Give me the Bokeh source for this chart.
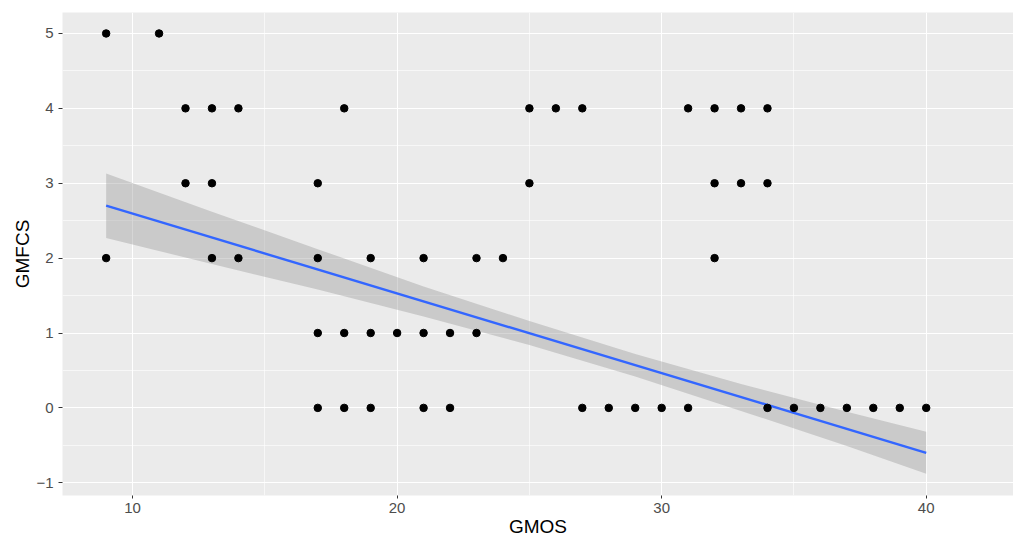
from bokeh.plotting import figure
from bokeh.models import Range1d, FixedTicker
from bokeh.embed import file_html
from bokeh.resources import INLINE

# Scatter data: GMOS (x) vs GMFCS (y)
gmos = [9, 11,
        12, 13, 14, 18, 25, 26, 27, 31, 32, 33, 34,
        12, 13, 17, 25, 32, 33, 34,
        9, 13, 14, 17, 19, 21, 23, 24, 32,
        17, 18, 19, 20, 21, 22, 23,
        17, 18, 19, 21, 22, 27, 28, 29, 30, 31, 34, 35, 36, 37, 38, 39, 40]
gmfcs = [5, 5,
         4, 4, 4, 4, 4, 4, 4, 4, 4, 4, 4,
         3, 3, 3, 3, 3, 3, 3,
         2, 2, 2, 2, 2, 2, 2, 2, 2,
         1, 1, 1, 1, 1, 1, 1,
         0, 0, 0, 0, 0, 0, 0, 0, 0, 0, 0, 0, 0, 0, 0, 0, 0]

# Linear fit and its confidence band
fit_x = [9, 40]
fit_y = [2.70, -0.60]
band_x = [9, 13, 17, 21, 25, 29, 33, 37, 40]
band_lower = [2.27, 1.92, 1.58, 1.22, 0.84, 0.42, -0.04, -0.51, -0.88]
band_upper = [3.13, 2.62, 2.12, 1.62, 1.16, 0.72, 0.32, -0.05, -0.32]

x_ticks = [10, 20, 30, 40]
y_ticks = [-1, 0, 1, 2, 3, 4, 5]

FONT = "Liberation Sans"

p = figure(width=1013, height=541, output_backend="svg", toolbar_location=None,
           x_range=Range1d(7.35, 43.3), y_range=Range1d(-1.17, 5.28),
           min_border_left=62, min_border_right=0, min_border_top=12, min_border_bottom=46)

p.background_fill_color = "#EBEBEB"
p.border_fill_color = "white"
p.outline_line_color = None

p.varea(x=band_x, y1=band_lower, y2=band_upper, fill_color="#999999", fill_alpha=0.4)
p.line(fit_x, fit_y, line_color="#3366FF", line_width=2.4)
p.scatter(gmos, gmfcs, size=7.5, color="black")

for ax in (p.xaxis, p.yaxis):
    ax.axis_line_color = None
    ax.major_tick_line_color = "#333333"
    ax.major_tick_in = 0
    ax.minor_tick_line_color = None
    ax.major_label_text_color = "#4D4D4D"
    ax.major_label_text_font = FONT
    ax.major_label_text_font_size = "15px"
    ax.axis_label_text_font = FONT
    ax.axis_label_text_font_size = "19px"
    ax.axis_label_text_font_style = "normal"
    ax.axis_label_text_color = "black"

p.xaxis.major_tick_out = 3
p.yaxis.major_tick_out = 4
p.xaxis.ticker = FixedTicker(ticks=x_ticks, minor_ticks=[5, 15, 25, 35, 45])
p.yaxis.ticker = FixedTicker(ticks=y_ticks, minor_ticks=[-0.5, 0.5, 1.5, 2.5, 3.5, 4.5])
p.xaxis.axis_label = "GMOS"
p.yaxis.axis_label = "GMFCS"
p.xaxis.major_label_standoff = 3
p.xaxis.axis_label_standoff = 0
p.yaxis.major_label_standoff = 5
p.yaxis.axis_label_standoff = 0

p.xgrid.grid_line_color = "white"
p.ygrid.grid_line_color = "white"
p.xgrid.grid_line_width = 1.1
p.ygrid.grid_line_width = 1.1
p.xgrid.minor_grid_line_color = "white"
p.ygrid.minor_grid_line_color = "white"
p.xgrid.minor_grid_line_width = 0.6
p.ygrid.minor_grid_line_width = 0.6

open("out.html", "w").write(file_html(p, INLINE))
